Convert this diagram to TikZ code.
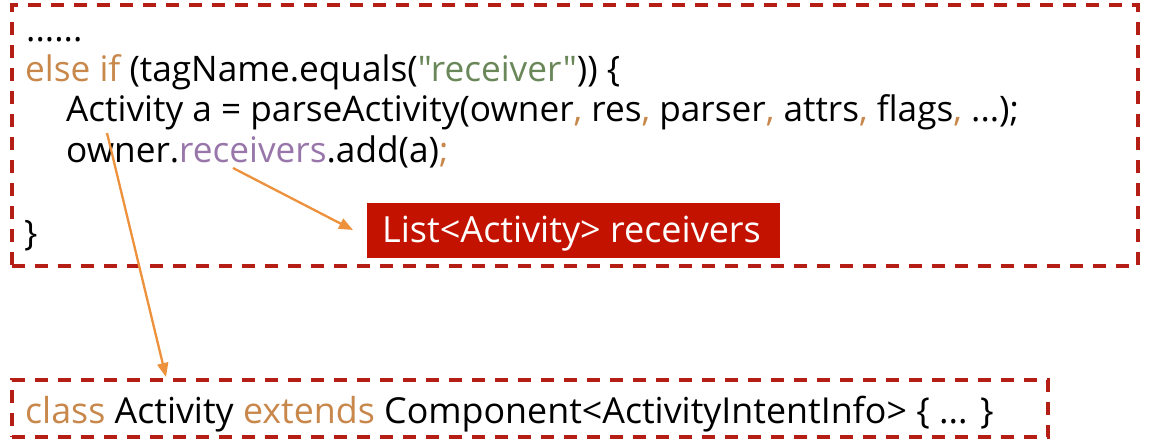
\documentclass[tikz,border=0pt]{standalone}
\usepackage{fontspec}
\setmainfont{Open Sans}[Ligatures=TeXOff]
\usetikzlibrary{arrows.meta}
\definecolor{kw}{RGB}{200,135,75}
\definecolor{str}{RGB}{106,135,89}
\definecolor{fld}{RGB}{152,118,170}
\definecolor{dashred}{RGB}{180,30,20}
\definecolor{boxred}{RGB}{196,18,0}
\definecolor{arr}{RGB}{237,145,60}
\tikzset{
  codeline/.style={anchor=base west, inner sep=0pt, font=\fontsize{35.2}{40}\selectfont},
  bigline/.style={anchor=base west, inner sep=0pt, font=\fontsize{35.8}{42}\selectfont},
  dashbox/.style={draw=dashred, line width=3.8pt, dash pattern=on 13pt off 10pt},
  redlabel/.style={fill=boxred, text=white, inner sep=0pt},
  pointer/.style={draw=arr, line width=2.3pt, -{Triangle[length=14pt,width=11pt]}}
}
\begin{document}
\begin{tikzpicture}[x=1pt,y=-1pt]
\useasboundingbox (0,0) rectangle (1151,441);
% boxes
\node[dashbox, inner sep=0pt, minimum width=1126pt, minimum height=261pt, anchor=north west] (topbox) at (10,3) {};
\node[dashbox, inner sep=0pt, minimum width=1036pt, minimum height=57pt, anchor=north west] (botbox) at (10,378) {};
% code
\node[codeline] (dots) at (26,42) {......};
\node[codeline] (l1) at (25,82) {\textcolor{kw}{else if} (tagName.equals(\textcolor{str}{"receiver"})) \{};
\node[codeline] (l2) at (66,122) {Activity a = parseActivity(owner\textcolor{kw}{,} res\textcolor{kw}{,} parser\textcolor{kw}{,} attrs\textcolor{kw}{,} flags\textcolor{kw}{,} ...);};
\node[codeline] (l3) at (66,163) {owner.\textcolor{fld}{receivers}.add(a)\textcolor{kw}{;}};
\node[codeline] (close) at (24,245) {\}};
% red label
\node[redlabel, minimum width=413pt, minimum height=55pt, anchor=north west] (lbl) at (367,203) {};
\node[anchor=base west, inner sep=0pt, text=white, font=\fontsize{36}{42}\selectfont] (lbltxt) at (382,242) {List<Activity> receivers};
% bottom line
\node[bigline] (cls) at (25,423) {\textcolor{kw}{class} Activity \textcolor{kw}{extends} Component<ActivityIntentInfo> \{ ... \}};
% arrows
\coordinate (a1s) at (233,168);
\coordinate (a1e) at (353,230);
\coordinate (a2s) at (107,133);
\coordinate (a2e) at (166,377);
\draw[pointer] (a1s) -- (a1e);
\draw[pointer] (a2s) -- (a2e);
\end{tikzpicture}
\end{document}
